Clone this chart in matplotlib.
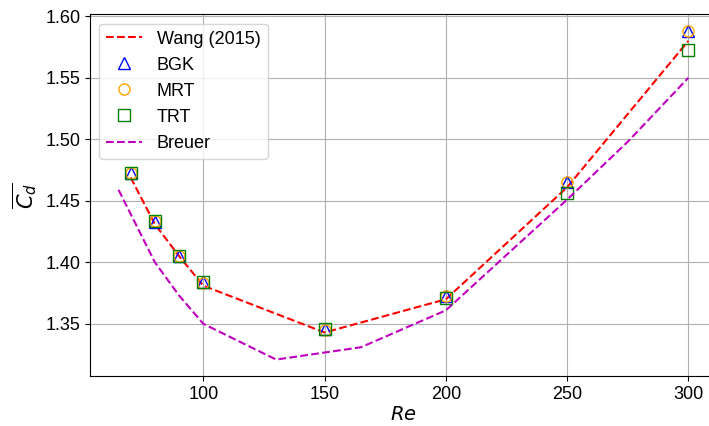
import matplotlib
matplotlib.use("Agg")
import matplotlib.pyplot as plt

plt.rcParams["font.family"] = ["Liberation Sans", "DejaVu Sans"]
plt.rcParams["mathtext.fontset"] = "dejavusans"

# Reference curves
re_wang = [70, 80, 90, 100, 150, 200, 250, 300]
cd_wang = [1.469, 1.431, 1.405, 1.381, 1.343, 1.370, 1.461, 1.580]

re_breuer = [65, 80, 90, 100, 130, 165, 200, 250, 275, 300]
cd_breuer = [1.459, 1.400, 1.373, 1.350, 1.321, 1.331, 1.361, 1.451, 1.498, 1.550]

# LBM results for each collision operator
re_sim = [70, 80, 90, 100, 150, 200, 250, 300]
cd_bgk = [1.473, 1.433, 1.405, 1.384, 1.346, 1.373, 1.465, 1.588]
cd_mrt = [1.473, 1.434, 1.405, 1.383, 1.345, 1.373, 1.465, 1.588]
cd_trt = [1.473, 1.434, 1.405, 1.384, 1.346, 1.371, 1.456, 1.573]

fig = plt.figure(figsize=(7.09, 4.26), dpi=100)
ax = fig.add_axes([0.127, 0.117, 0.884, 0.849])

ax.plot(re_wang, cd_wang, "r--", label="Wang (2015)")
ax.plot(re_sim, cd_bgk, "^", color="b", mfc="none", ms=8, linestyle="none", label="BGK")
ax.plot(re_sim, cd_mrt, "o", color="orange", mfc="none", ms=8, linestyle="none", label="MRT")
ax.plot(re_sim, cd_trt, "s", color="green", mfc="none", ms=8, linestyle="none", label="TRT")
ax.plot(re_breuer, cd_breuer, "m--", label="Breuer")

ax.set_xlim(53.25, 311.75)
ax.set_ylim(1.3075, 1.6015)
ax.set_xticks([100, 150, 200, 250, 300])
ax.set_yticks([1.35, 1.40, 1.45, 1.50, 1.55, 1.60])
ax.set_yticklabels(["1.35", "1.40", "1.45", "1.50", "1.55", "1.60"])
ax.tick_params(labelsize=13)
ax.grid(True)

ax.set_xlabel("$Re$", fontsize=14, labelpad=2)
ax.set_ylabel(r"$\overline{C_d}$", fontsize=15)
ax.legend(loc="upper left", fontsize=13)

fig.savefig("out.png", dpi=100)
